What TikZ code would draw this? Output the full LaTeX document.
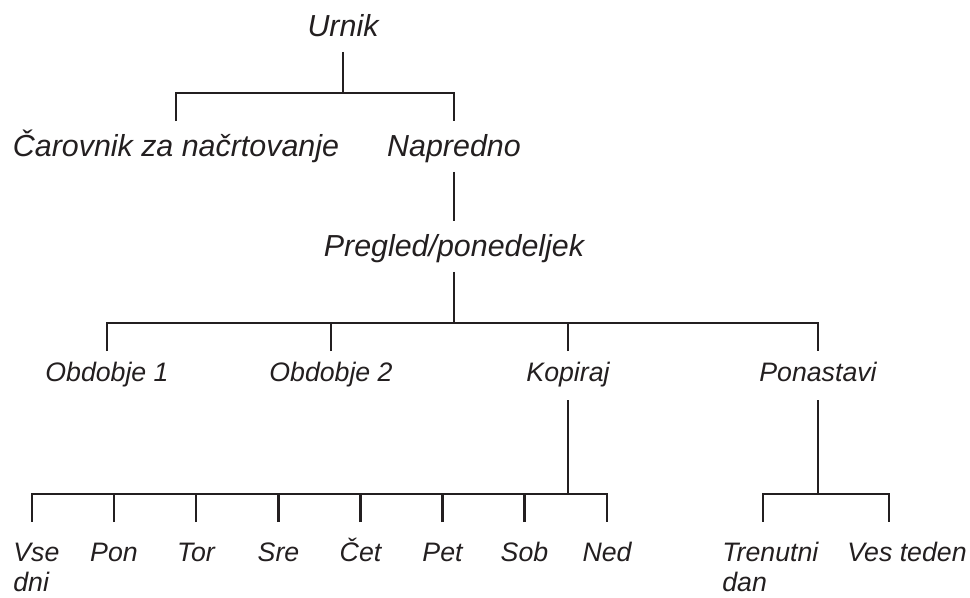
\documentclass[tikz,border=0pt]{standalone}
\usepackage{fontspec}
\setmainfont{Liberation Sans}
\usepackage{tikz}
\usetikzlibrary{positioning,calc}
\definecolor{ink}{HTML}{231F20}
\tikzset{
  itm/.style={font=\itshape\fontsize{17.3pt}{20pt}\selectfont, text=ink, anchor=base,
              inner xsep=0pt, inner ysep=8.3pt, text height=11.9pt, text depth=0pt},
  sub/.style={font=\itshape\fontsize{15.2pt}{17pt}\selectfont, text=ink, anchor=base,
              inner xsep=0pt, inner ysep=6.8pt, text height=10.5pt, text depth=3.4pt},
  day/.style={font=\itshape\fontsize{15.2pt}{17pt}\selectfont, text=ink, anchor=north,
              align=left, inner xsep=0pt, inner ysep=11.7pt, text height=10.5pt, text depth=0pt},
  twoline/.style={anchor=base west, text height=27.5pt},
  br/.style={draw=ink, line width=1.5pt},
}
\begin{document}
\begin{tikzpicture}
  \useasboundingbox (0,0) rectangle (19.4,-11.96);
  % top of the menu
  \node[itm] (urnik) at (6.86,-0.74) {Urnik};
  \node[itm] (carov) at (3.52,-3.14) {Čarovnik za načrtovanje};
  \node[itm] (napr) at (9.08,-3.14) {Napredno};
  \node[itm] (pregl) at (9.08,-5.14) {Pregled/ponedeljek};
  \coordinate (j0) at (6.86,-1.86);
  \draw[br] (urnik.south) -- (j0);
  \draw[br] (carov.north) |- (j0) -| (napr.north);
  \draw[br] (napr) -- (pregl);
  % second level
  \node[sub] (obd1) at (2.14,-7.64) {Obdobje 1};
  \node[sub] (obd2) at (6.62,-7.64) {Obdobje 2};
  \node[sub] (kop) at (11.36,-7.64) {Kopiraj};
  \node[sub] (ponas) at (16.36,-7.64) {Ponastavi};
  \coordinate (j1) at (9.08,-6.46);
  \draw[br] (pregl) -- (j1);
  \draw[br] (obd1.north) |- (j1) -| (ponas.north);
  \draw[br] (obd2.north) -- (obd2 |- j1);
  \draw[br] (kop.north) -- (kop |- j1);
  % days under Kopiraj
  \node[day, twoline] (vse) at (0.26,-11.82) {Vse\\dni};
  \node[day] (pon) at (2.28,-10.44) {Pon};
  \node[day] (tor) at (3.92,-10.44) {Tor};
  \node[day] (sre) at (5.57,-10.44) {Sre};
  \node[day] (cet) at (7.21,-10.44) {Čet};
  \node[day] (pet) at (8.85,-10.44) {Pet};
  \node[day] (sob) at (10.49,-10.44) {Sob};
  \node[day] (ned) at (12.14,-10.44) {Ned};
  \coordinate (k0) at (0.64,-9.88);
  \coordinate (k7) at (12.14,-9.88);
  \draw[br] (kop) -- (kop |- k0);
  \draw[br] (vse.north -| k0) -- (k0) -- (k7) -- (ned.north);
  \draw[br] (pon.north) -- (pon |- k0) (tor.north) -- (tor |- k0)
            (sre.north) -- (sre |- k0) (cet.north) -- (cet |- k0)
            (pet.north) -- (pet |- k0) (sob.north) -- (sob |- k0);
  % under Ponastavi
  \node[day, twoline] (tren) at (14.44,-11.82) {Trenutni\\dan};
  \node[day] (ves) at (18.14,-10.44) {Ves teden};
  \coordinate (p0) at (15.26,-9.88);
  \coordinate (p1) at (17.78,-9.88);
  \draw[br] (ponas) -- (ponas |- p0);
  \draw[br] (tren.north -| p0) -- (p0) -- (p1) -- (ves.north -| p1);
\end{tikzpicture}
\end{document}
